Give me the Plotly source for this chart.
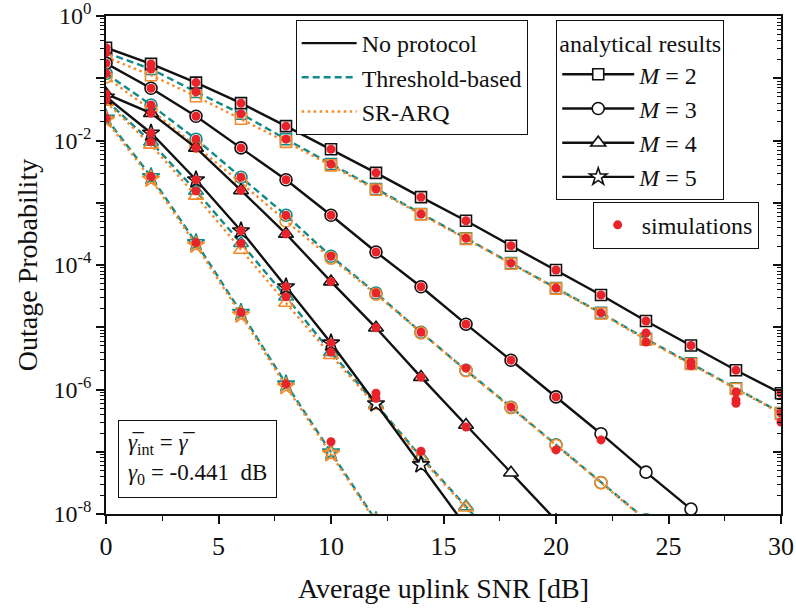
import plotly.graph_objects as go

# Average uplink SNR grid [dB]
snr = [0, 2, 4, 6, 8, 10, 12, 14, 16, 18, 20, 22, 24, 26, 28, 30]

# Analytical outage probability, M = 2
np_m2 = [0.309, 0.170, 0.0851, 0.0398, 0.0170, 7.24e-3, 3.02e-3, 1.23e-3, 5.13e-4, 2.04e-4,
         8.3e-5, 3.3e-5, 1.26e-5, 5.1e-6, 2.04e-6, 8.7e-7]
tb_m2 = [0.257, 0.141, 0.0603, 0.0269, 0.0105, 4.17e-3, 1.66e-3, 6.6e-4, 2.69e-4, 1.07e-4,
         4.27e-5, 1.70e-5, 6.5e-6, 2.63e-6, 1.05e-6, 4.2e-7]
sr_m2 = [0.219, 0.112, 0.0513, 0.0224, 9.5e-3, 3.98e-3, 1.62e-3, 6.5e-4, 2.63e-4, 1.05e-4,
         4.17e-5, 1.66e-5, 6.3e-6, 2.57e-6, 1.02e-6, 4.1e-7]

# M = 3
np_m3 = [0.174, 0.0692, 0.0245, 7.6e-3, 2.34e-3, 6.3e-4, 1.62e-4, 4.47e-5, 1.12e-5, 2.95e-6,
         7.6e-7, 1.95e-7, 4.7e-8, 1.2e-8]
tb_m3 = [0.120, 0.0372, 0.0105, 2.57e-3, 6.3e-4, 1.38e-4, 3.55e-5, 8.3e-6, 2.04e-6, 5.2e-7,
         1.29e-7, 3.2e-8, 8.1e-9]
sr_m3 = [0.105, 0.0309, 8.1e-3, 2.09e-3, 5.1e-4, 1.29e-4, 3.39e-5, 8.1e-6, 2.0e-6, 5.1e-7,
         1.26e-7, 3.16e-8, 7.9e-9]

# M = 4
np_m4 = [0.056, 0.0275, 7.6e-3, 1.58e-3, 3.16e-4, 5.4e-5, 9.8e-6, 1.58e-6, 2.69e-7, 4.6e-8, 7.9e-9]
tb_m4 = [0.0447, 9.5e-3, 1.55e-3, 2.24e-4, 3.09e-5, 3.98e-6, 5.75e-7, 8.3e-8, 1.32e-8, 2.0e-9]
sr_m4 = [0.0417, 8.5e-3, 1.29e-3, 1.74e-4, 2.45e-5, 3.55e-6, 5.5e-7, 7.9e-8, 1.26e-8, 2.0e-9]

# M = 5
np_m5 = [0.050, 0.0132, 2.34e-3, 3.55e-4, 4.47e-5, 5.6e-6, 5.9e-7, 6.2e-8, 6.3e-9]
tb_m5 = [0.0229, 2.63e-3, 2.29e-4, 1.74e-5, 1.23e-6, 1.0e-7, 7.8e-9]
sr_m5 = [0.0214, 2.40e-3, 2.09e-4, 1.58e-5, 1.12e-6, 9.3e-8, 7.4e-9]

# Monte-Carlo simulation results
sim_np_m2_x = [0, 2, 4, 6, 8, 10, 12, 14, 16, 18, 20, 22, 24, 26, 28, 30]
sim_np_m2 = [0.309, 0.170, 0.0851, 0.0398, 0.0170, 7.24e-3, 3.02e-3, 1.23e-3, 5.13e-4, 2.04e-4,
             8.3e-5, 3.3e-5, 1.26e-5, 5.1e-6, 2.04e-6, 8.7e-7]
sim_tb_m2_x = [0, 2, 4, 6, 8, 10, 12, 14, 16, 18, 20, 22, 24, 24, 26, 26, 28, 28, 28, 30, 30]
sim_tb_m2 = [0.257, 0.141, 0.0603, 0.0269, 0.0105, 4.17e-3, 1.66e-3, 6.6e-4, 2.69e-4, 1.07e-4,
             4.27e-5, 1.70e-5, 8.1e-6, 5.8e-6, 2.75e-6, 2.4e-6, 9.1e-7, 6.8e-7, 6.0e-7, 4.2e-7, 3.0e-7]
sim_np_m3_x = [0, 2, 4, 6, 8, 10, 12, 14, 16, 18, 20, 22]
sim_np_m3 = [0.174, 0.0692, 0.0245, 7.6e-3, 2.34e-3, 6.3e-4, 1.62e-4, 4.47e-5, 1.12e-5, 2.95e-6,
             7.6e-7, 1.55e-7]
sim_tb_m3_x = [0, 2, 4, 6, 8, 10, 12, 14, 16, 18, 20]
sim_tb_m3 = [0.120, 0.0372, 0.0105, 2.57e-3, 6.3e-4, 1.38e-4, 3.55e-5, 8.3e-6, 2.2e-6, 5.2e-7, 1.07e-7]
sim_np_m4_x = [0, 2, 4, 6, 8, 10, 12, 14, 16]
sim_np_m4 = [0.056, 0.0275, 7.6e-3, 1.58e-3, 3.16e-4, 5.4e-5, 9.8e-6, 1.58e-6, 2.5e-7]
sim_tb_m4_x = [0, 2, 4, 6, 8, 10, 12, 14]
sim_tb_m4 = [0.0447, 9.5e-3, 1.55e-3, 2.24e-4, 3.09e-5, 3.98e-6, 7.2e-7, 1.02e-7]
sim_np_m5_x = [0, 2, 4, 6, 8, 10, 12]
sim_np_m5 = [0.050, 0.0132, 2.34e-3, 3.55e-4, 4.47e-5, 5.6e-6, 8.7e-7]
sim_tb_m5_x = [0, 2, 4, 6, 8, 10]
sim_tb_m5 = [0.0229, 2.63e-3, 2.29e-4, 1.74e-5, 1.23e-6, 1.45e-7]

BLACK = "#111111"
TEAL = "#128a8a"
ORANGE = "#f58a2a"
RED = "#e8242a"
FONT = "Liberation Serif"

symbols = {2: "square", 3: "circle", 4: "triangle-up", 5: "star"}
sizes = {2: 11, 3: 12, 4: 13, 5: 13}

curves = {
    2: (np_m2, tb_m2, sr_m2),
    3: (np_m3, tb_m3, sr_m3),
    4: (np_m4, tb_m4, sr_m4),
    5: (np_m5, tb_m5, sr_m5),
}
sims = [
    (sim_np_m2_x, sim_np_m2), (sim_tb_m2_x, sim_tb_m2),
    (sim_np_m3_x, sim_np_m3), (sim_tb_m3_x, sim_tb_m3),
    (sim_np_m4_x, sim_np_m4), (sim_tb_m4_x, sim_tb_m4),
    (sim_np_m5_x, sim_np_m5), (sim_tb_m5_x, sim_tb_m5),
]

fig = go.Figure()

for m, (npv, tbv, srv) in curves.items():
    sym = symbols[m]
    sz = sizes[m]
    fig.add_trace(go.Scatter(
        x=snr[:len(tbv)], y=tbv, mode="lines+markers", showlegend=False,
        line=dict(color=TEAL, width=2.4, dash="7px,4px"),
        marker=dict(symbol=sym + "-open", size=sz, color=TEAL, line=dict(width=1.6, color=TEAL)),
    ))
    fig.add_trace(go.Scatter(
        x=snr[:len(srv)], y=srv, mode="lines+markers", showlegend=False,
        line=dict(color=ORANGE, width=2.4, dash="2.5px,3.5px"),
        marker=dict(symbol=sym + "-open", size=sz, color=ORANGE, line=dict(width=1.6, color=ORANGE)),
    ))
    fig.add_trace(go.Scatter(
        x=snr[:len(npv)], y=npv, mode="lines+markers", showlegend=False,
        line=dict(color=BLACK, width=2.4),
        marker=dict(symbol=sym, size=sz, color="white", line=dict(width=1.6, color=BLACK)),
    ))

for sx, sy in sims:
    fig.add_trace(go.Scatter(
        x=sx, y=sy, mode="markers", showlegend=False,
        marker=dict(symbol="circle", size=9, color=RED, line=dict(width=0)),
    ))

# Legend: protocol line styles
for name, col, dash in [("No protocol", BLACK, "solid"),
                        ("Threshold-based", TEAL, "7px,4px"),
                        ("SR-ARQ", ORANGE, "2.5px,3.5px")]:
    fig.add_trace(go.Scatter(
        x=[None], y=[None], mode="lines", name=name, legend="legend",
        line=dict(color=col, width=2.4, dash=dash), yaxis="y2",
    ))

# Legend: number of relays M
for m in [2, 3, 4, 5]:
    fig.add_trace(go.Scatter(
        x=[None], y=[None], mode="lines+markers", name=f"<i>M</i> = {m}", legend="legend2",
        line=dict(color=BLACK, width=2.4),
        marker=dict(symbol=symbols[m], size=sizes[m], color="white", line=dict(width=1.6, color=BLACK)),
        yaxis="y2",
    ))

# Legend: simulations
fig.add_trace(go.Scatter(
    x=[None], y=[None], mode="markers", name="simulations", legend="legend3",
    marker=dict(symbol="circle", size=9, color=RED), yaxis="y2",
))

decades = [10.0 ** (-k) for k in range(0, 9)]
dec_text = ["10<sup>0</sup>", "", "10<sup>-2</sup>", "", "10<sup>-4</sup>", "",
            "10<sup>-6</sup>", "", "10<sup>-8</sup>"]
minor_vals = [j * 10.0 ** (-k) for k in range(1, 9) for j in range(2, 10)]

fig.update_layout(
    width=796, height=610,
    margin=dict(l=106, r=15, t=16, b=96),
    paper_bgcolor="white", plot_bgcolor="white",
    font=dict(family=FONT, size=24, color=BLACK),
    xaxis=dict(
        range=[0, 30], tickmode="array", tickvals=[0, 5, 10, 15, 20, 25, 30],
        ticks="outside", ticklen=8, tickwidth=1.5, tickcolor=BLACK,
        minor=dict(tickmode="array", tickvals=[2.5, 7.5, 12.5, 17.5, 22.5, 27.5],
                   ticks="outside", ticklen=5, tickwidth=1.3, tickcolor=BLACK, showgrid=False),
        showline=True, linecolor=BLACK, linewidth=1.5, mirror=True,
        showgrid=False, zeroline=False, ticklabeloverflow="allow",
        title=dict(text="Average uplink SNR [dB]", font=dict(size=28), standoff=18),
        tickfont=dict(size=26), automargin=False,
    ),
    yaxis=dict(
        type="log", range=[-8, 0], tickmode="array", tickvals=decades, ticktext=dec_text,
        ticks="outside", ticklen=8, tickwidth=1.5, tickcolor=BLACK,
        minor=dict(tickmode="array", tickvals=minor_vals, ticks="outside", ticklen=4,
                   tickwidth=1.2, tickcolor=BLACK, showgrid=False),
        showline=True, linecolor=BLACK, linewidth=1.5, mirror=True,
        showgrid=False, zeroline=False, ticklabeloverflow="allow",
        title=dict(text="Outage Probability", font=dict(size=28), standoff=8),
        tickfont=dict(size=24), automargin=False,
    ),
    yaxis2=dict(
        type="log", range=[-8, 0], overlaying="y", side="right", anchor="x",
        tickmode="array", tickvals=decades, showticklabels=False,
        ticks="inside", ticklen=8, tickwidth=1.5, tickcolor=BLACK,
        minor=dict(tickmode="array", tickvals=minor_vals, ticks="inside", ticklen=4,
                   tickwidth=1.2, tickcolor=BLACK, showgrid=False),
        showline=False, showgrid=False, zeroline=False,
    ),
    legend=dict(
        x=0.281, y=0.992, xanchor="left", yanchor="top",
        bgcolor="white", bordercolor=BLACK, borderwidth=1,
        font=dict(size=24), itemwidth=55, tracegroupgap=0,
    ),
    legend2=dict(
        x=0.667, y=0.992, xanchor="left", yanchor="top",
        bgcolor="white", bordercolor=BLACK, borderwidth=1,
        font=dict(size=24), itemwidth=72,
        title=dict(text="analytical results", side="top", font=dict(size=24)),
    ),
    legend3=dict(
        x=0.721, y=0.627, xanchor="left", yanchor="top",
        bgcolor="white", bordercolor=BLACK, borderwidth=1,
        font=dict(size=24), itemwidth=38,
    ),
    annotations=[dict(
        xref="paper", yref="paper", x=0.018, y=0.032, xanchor="left", yanchor="bottom",
        text="<i>γ\u0305</i><sub>int</sub> = <i>γ\u0305</i><br><i>γ</i><sub>0</sub> = -0.441\u00a0 dB",
        showarrow=False, align="left", bgcolor="white", bordercolor=BLACK, borderwidth=1,
        borderpad=9, font=dict(size=23),
    )],
)

fig.write_html("out.html")
